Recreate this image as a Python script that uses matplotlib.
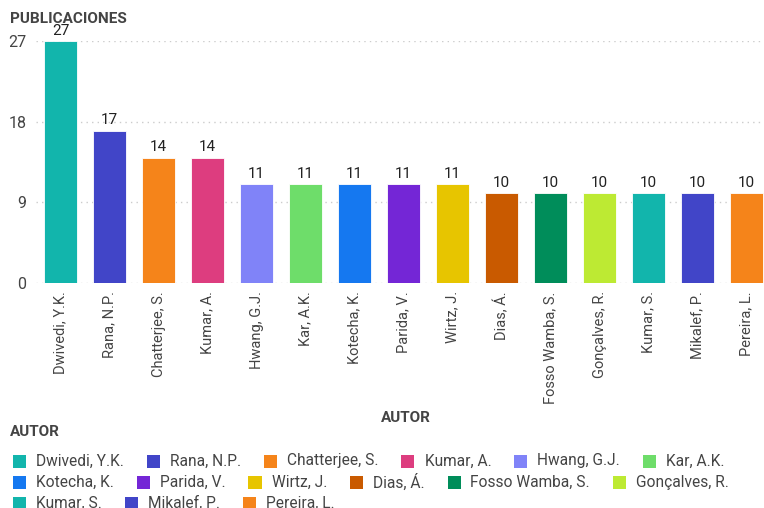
import matplotlib
matplotlib.use("Agg")
import matplotlib.pyplot as plt
from matplotlib.patches import Rectangle

plt.rcParams['font.family'] = ['Roboto', 'DejaVu Sans']

autores = ["Dwivedi, Y.K.", "Rana, N.P.", "Chatterjee, S.", "Kumar, A.", "Hwang, G.J.",
           "Kar, A.K.", "Kotecha, K.", "Parida, V.", "Wirtz, J.", "Dias, Á.",
           "Fosso Wamba, S.", "Gonçalves, R.", "Kumar, S.", "Mikalef, P.", "Pereira, L."]
publicaciones = [27, 17, 14, 14, 11, 11, 11, 11, 11, 10, 10, 10, 10, 10, 10]
colores = ["#12B5AC", "#4145C8", "#F5841A", "#DD3D7F", "#8083F8",
           "#6EDD6A", "#1578F0", "#7426D6", "#E7C500", "#C95A00",
           "#008D5A", "#BDEA33", "#12B5AC", "#4145C8", "#F5841A"]
yticks = [0, 9, 18, 27]

W, H = 764, 508
fig = plt.figure(figsize=(W / 100, H / 100), dpi=100)
ax = fig.add_axes([36 / W, 225 / H, 735 / W, 242 / H])

x = range(len(autores))
ax.bar(x, publicaciones, width=0.68, color=colores, edgecolor="white", linewidth=0.6, zorder=3)
for i, v in enumerate(publicaciones):
    ax.text(i, v + 0.35, str(v), ha="center", va="bottom", fontsize=11, color="#222222", clip_on=False)

ax.set_xlim(-0.5, len(autores) - 0.5)
ax.set_ylim(0, 27)
ax.set_yticks(yticks)
ax.set_yticklabels([str(t) for t in yticks], fontsize=11.5, color="#444444")
ax.set_xticks(list(x))
ax.set_xticklabels(autores, rotation=90, fontsize=10.5, color="#444444")
ax.tick_params(axis="both", length=0, pad=6)
ax.tick_params(axis="y", pad=7)
for s in ax.spines.values():
    s.set_visible(False)
ax.grid(axis="y", color="#cccccc", linestyle=(0, (1, 3)), linewidth=1, zorder=0)
ax.set_axisbelow(True)

fig.text(10 / W, 1 - 19 / H, "PUBLICACIONES", fontsize=11, fontweight="bold", color="#444444", va="center")
fig.text(406 / W, 1 - 418 / H, "AUTOR", fontsize=11, fontweight="bold", color="#444444", va="center", ha="center")
fig.text(10 / W, 1 - 432 / H, "AUTOR", fontsize=11, fontweight="bold", color="#444444", va="center")

# flow legend below the chart
renderer = fig.canvas.get_renderer()
px, py = 13, 461
for nombre, c in zip(autores, colores):
    t = fig.text(0, 0, nombre, fontsize=11.2, color="#444444", va="center")
    tw = t.get_window_extent(renderer).width
    if px + 23 + tw > W:
        px = 13
        py += 21
    fig.patches.append(Rectangle((px / W, 1 - (py + 6.5) / H), 13 / W, 13 / H,
                                 transform=fig.transFigure, facecolor=c, edgecolor="none"))
    t.set_position(((px + 23) / W, 1 - py / H))
    px += 23 + tw + 23

fig.savefig("out.png", dpi=100)
